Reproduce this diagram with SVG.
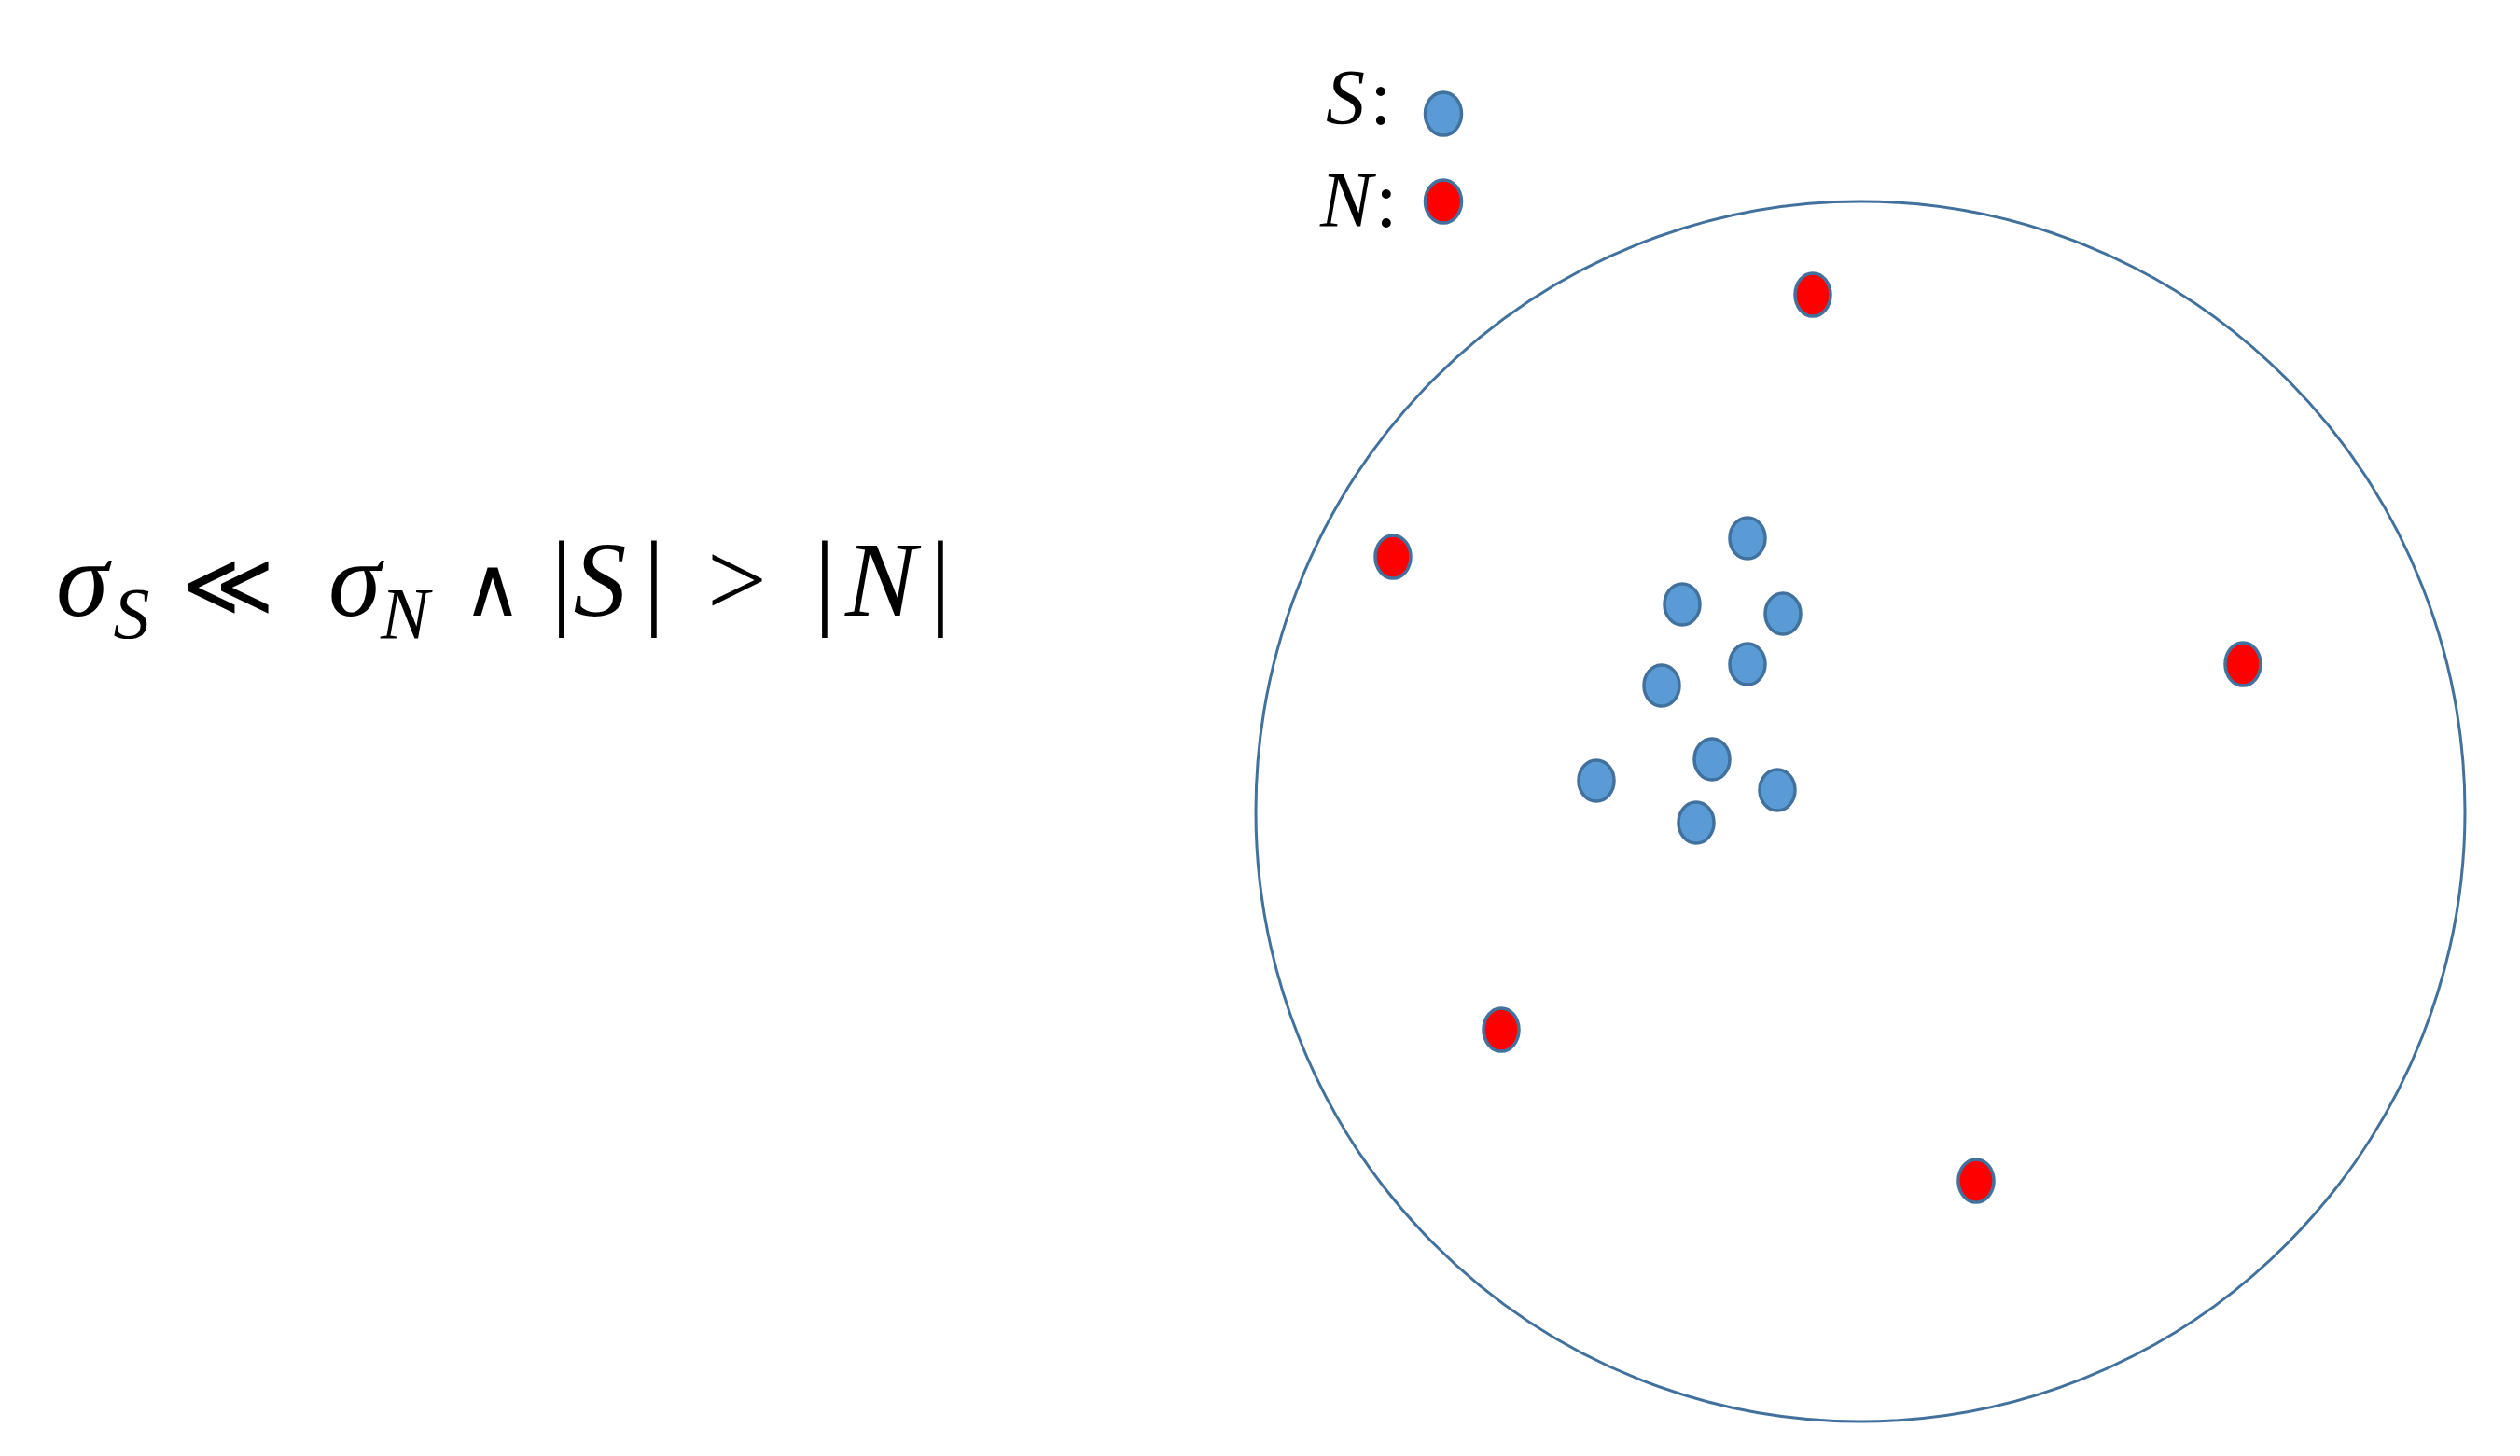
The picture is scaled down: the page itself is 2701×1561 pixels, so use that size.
<svg xmlns="http://www.w3.org/2000/svg" width="2701" height="1561" viewBox="0 0 2701 1561">
<style>
.bg{fill:#ffffff}
.outer{fill:none;stroke:#41719C;stroke-width:3}
.s{fill:#5B9BD5;stroke:#41719C;stroke-width:3.5}
.n{fill:#FF0000;stroke:#41719C;stroke-width:3.5}
.f{font-family:"Liberation Serif","DejaVu Serif",serif;fill:#000000;text-anchor:middle}
.it{font-style:italic}
</style>
<rect class="bg" x="0" y="0" width="2701" height="1561"/>
<g id="formula">
<text class="f" font-size="114" y="660"><tspan class="it" x="88">σ</tspan><tspan class="it" x="141" y="684" font-size="78">S</tspan><tspan x="244" y="660" font-family="DejaVu Serif, serif" font-size="96">≪</tspan><tspan class="it" x="380" y="660">σ</tspan><tspan class="it" x="434" y="684" font-size="78">N</tspan><tspan x="528" y="660" font-family="DejaVu Serif, serif" font-size="88">∧</tspan><tspan x="602" y="660">|</tspan><tspan class="it" x="643" y="660">S</tspan><tspan x="701" y="660">|</tspan><tspan x="790" y="660">&gt;</tspan><tspan x="884" y="660">|</tspan><tspan class="it" x="944" y="660">N</tspan><tspan x="1008" y="660">|</tspan></text>
</g>
<g id="legend">
<g id="legend-s">
<text class="f" font-size="84" y="133"><tspan class="it" x="1442">S</tspan><tspan x="1480">:</tspan></text>
<ellipse class="s" cx="1547" cy="122" rx="19.5" ry="23"/>
</g>
<g id="legend-n">
<text class="f" font-size="84" y="243"><tspan class="it" x="1443">N</tspan><tspan x="1486">:</tspan></text>
<ellipse class="n" cx="1547" cy="216" rx="19.5" ry="23"/>
</g>
</g>
<g id="region">
<ellipse class="outer" cx="1994" cy="870" rx="648" ry="654"/>
</g>
<g id="noise">
<ellipse class="n" cx="1943" cy="316" rx="19" ry="23"/>
<ellipse class="n" cx="1493" cy="597" rx="19" ry="23"/>
<ellipse class="n" cx="2404" cy="712" rx="19" ry="23"/>
<ellipse class="n" cx="1609" cy="1104" rx="19" ry="23"/>
<ellipse class="n" cx="2118" cy="1266" rx="19" ry="23"/>
</g>
<g id="signal">
<ellipse class="s" cx="1873" cy="577" rx="19" ry="22"/>
<ellipse class="s" cx="1803" cy="648" rx="19" ry="22"/>
<ellipse class="s" cx="1911" cy="658" rx="19" ry="22"/>
<ellipse class="s" cx="1873" cy="712" rx="19" ry="22"/>
<ellipse class="s" cx="1781" cy="735" rx="19" ry="22"/>
<ellipse class="s" cx="1711" cy="837" rx="19" ry="22"/>
<ellipse class="s" cx="1835" cy="814" rx="19" ry="22"/>
<ellipse class="s" cx="1905" cy="847" rx="19" ry="22"/>
<ellipse class="s" cx="1818" cy="882" rx="19" ry="22"/>
</g>
<g id="connectors"></g>
</svg>
